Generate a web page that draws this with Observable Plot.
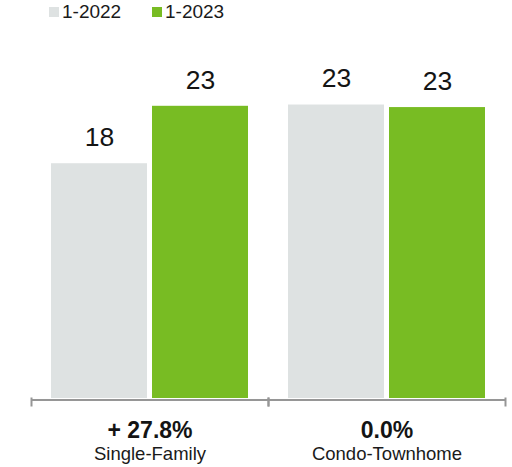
<!DOCTYPE html>
<html>
<head>
<meta charset="utf-8">
<script src="https://cdn.jsdelivr.net/npm/d3@7"></script>
<script src="https://cdn.jsdelivr.net/npm/@observablehq/plot@0.6"></script>
<style>
  body { margin: 0; background: #fff; font-family: "Liberation Sans", Arial, sans-serif; }
  #legend { position: relative; height: 30px; width: 512px; }
  .item { position: absolute; top: 0; height: 24px; display: flex; align-items: center; font-size: 19px; color: #1a1a1a; }
  .sw { width: 10px; height: 10px; margin-right: 3px; }
</style>
</head>
<body>
<div id="legend"></div>
<div id="chart"></div>
<script>
const categories = ["Single-Family", "Condo-Townhome"];
const years = ["1-2022", "1-2023"];
const values2022 = [18.4, 23.0];
const values2023 = [22.9, 22.8];
const changeLabels = ["+ 27.8%", "0.0%"];
const colors = ["#dee2e2", "#78bc23"];

const data = [];
categories.forEach((c, i) => {
  data.push({category: c, year: years[0], value: values2022[i]});
  data.push({category: c, year: years[1], value: values2023[i]});
});
const cats = categories.map((c, i) => ({category: c, change: changeLabels[i]}));

// legend
const legend = document.getElementById("legend");
const legendLeft = [49, 152];
years.forEach((y, i) => {
  const it = document.createElement("div");
  it.className = "item";
  it.style.left = legendLeft[i] + "px";
  it.innerHTML = `<span class="sw" style="background:${colors[i]}"></span><span>${y}</span>`;
  legend.appendChild(it);
});

const marginTop = 49, marginBottom = 69, height = 437;
const innerH = height - marginTop - marginBottom;

const chart = Plot.plot({
  width: 512,
  height,
  marginLeft: 30,
  marginRight: 7,
  marginTop,
  marginBottom,
  style: {fontFamily: "'Liberation Sans', Arial, sans-serif", background: "#fff"},
  fx: {domain: categories, padding: 0, axis: null},
  x: {domain: years, paddingInner: 0.049, paddingOuter: 0.189, axis: null},
  y: {domain: [0, 25], axis: null},
  color: {domain: years, range: colors},
  marks: [
    Plot.barY(data, {fx: "category", x: "year", y: "value", fill: "year"}),
    Plot.text(data, {fx: "category", x: "year", y: "value", text: d => String(Math.round(d.value)),
      lineAnchor: "bottom", dy: -17.7, fontSize: 26.5, fill: "#141414"}),
    Plot.ruleY([0], {stroke: "#969696", strokeWidth: 2, dy: 1.5}),
    Plot.frame({anchor: "left", stroke: "#969696", strokeWidth: 2, insetTop: innerH, insetBottom: -7}),
    Plot.frame({anchor: "right", stroke: "#969696", strokeWidth: 2, insetTop: innerH, insetBottom: -7}),
    Plot.text(cats, {fx: "category", text: "change", frameAnchor: "bottom", lineAnchor: "bottom",
      dy: 39.3, fontSize: 23, fontWeight: "bold", fill: "#141414"}),
    Plot.text(cats, {fx: "category", text: "category", frameAnchor: "bottom", lineAnchor: "bottom",
      dy: 61.3, fontSize: 18.5, fill: "#1a1a1a"})
  ]
});
document.getElementById("chart").appendChild(chart);
</script>
</body>
</html>
